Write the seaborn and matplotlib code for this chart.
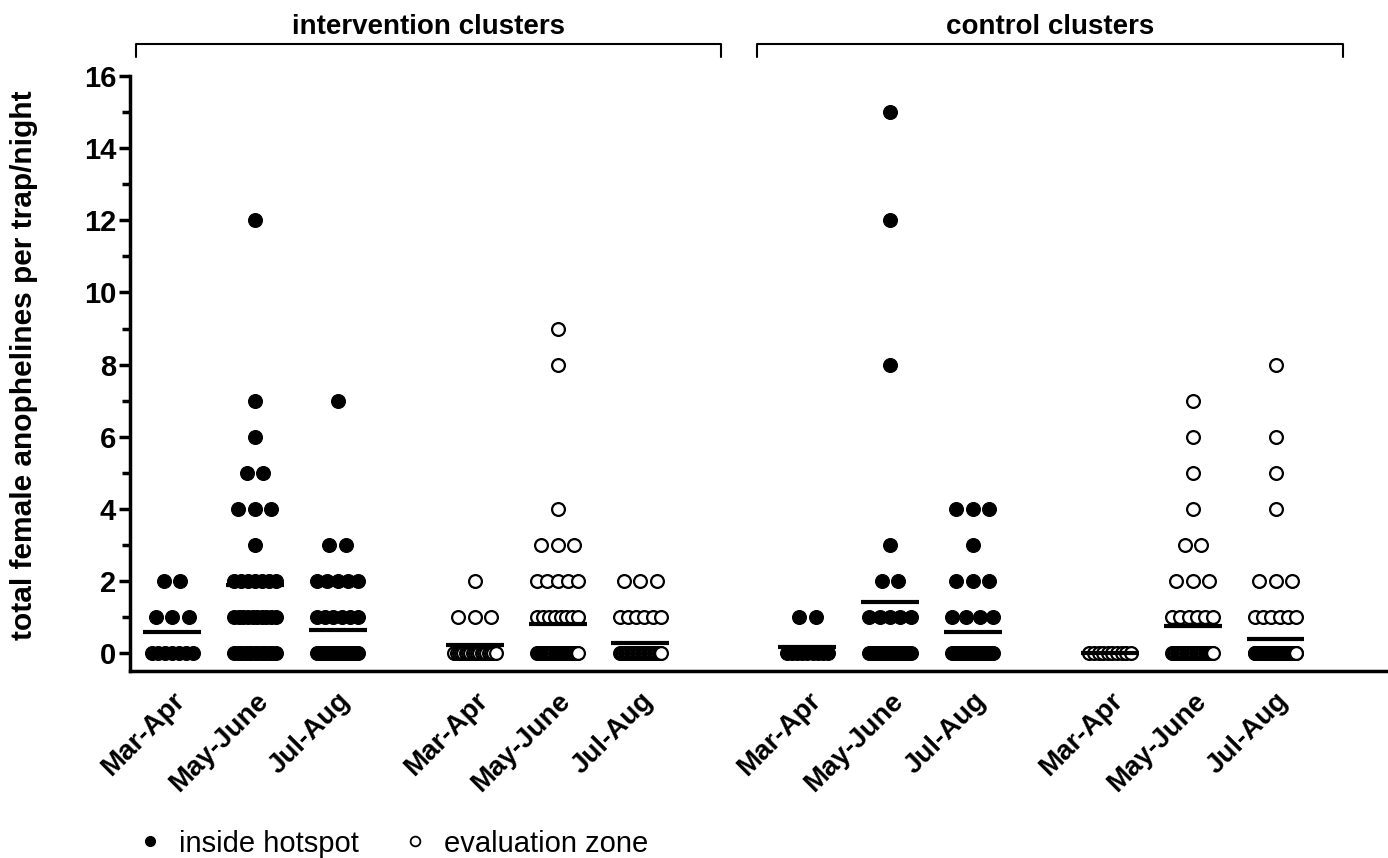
import numpy as np
import pandas as pd
import matplotlib
matplotlib.use("Agg")
import matplotlib.pyplot as plt
from matplotlib.lines import Line2D
import seaborn as sns

# -----------------------------
# Data
# -----------------------------
periods = ["Mar-Apr", "May-June", "Jul-Aug"]
arms = ["intervention clusters", "control clusters"]
zones = ["inside hotspot", "evaluation zone"]

int_hot_mar = [2] * 2 + [1] * 3 + [0] * 7
int_hot_may = [12, 7, 6, 5, 5, 4, 4, 4, 3] + [2] * 7 + [1] * 10 + [0] * 13
int_hot_jul = [7, 3, 3] + [2] * 5 + [1] * 6 + [0] * 30
int_eval_mar = [2] + [1] * 3 + [0] * 19
int_eval_may = [9, 8, 4, 3, 3, 3] + [2] * 5 + [1] * 8 + [0] * 41
int_eval_jul = [2] * 3 + [1] * 6 + [0] * 35
ctl_hot_mar = [1] * 2 + [0] * 9
ctl_hot_may = [15, 12, 8, 3, 2, 2] + [1] * 5 + [0] * 22
ctl_hot_jul = [4, 4, 4, 3, 2, 2, 2] + [1] * 4 + [0] * 31
ctl_eval_mar = [0] * 10
ctl_eval_may = [7, 6, 5, 4, 3, 3] + [2] * 3 + [1] * 6 + [0] * 38
ctl_eval_jul = [8, 6, 5, 4, 2, 2, 2] + [1] * 6 + [0] * 77

groups = [
    (arms[0], zones[0], int_hot_mar, int_hot_may, int_hot_jul),
    (arms[0], zones[1], int_eval_mar, int_eval_may, int_eval_jul),
    (arms[1], zones[0], ctl_hot_mar, ctl_hot_may, ctl_hot_jul),
    (arms[1], zones[1], ctl_eval_mar, ctl_eval_may, ctl_eval_jul),
]

# column positions (gaps between zone blocks and arms)
block_start = [0.0, 3.66, 7.68, 11.34]


# -----------------------------
# Helpers
# -----------------------------
def spread(values, step=0.2, half_width=0.25):
    """Side-by-side offsets for points sharing the same value (Prism style)."""
    values = np.asarray(values)
    offsets = np.zeros(len(values))
    for v in np.unique(values):
        idx = np.where(values == v)[0]
        n = len(idx)
        if n == 1:
            continue
        s = min(step, 2 * half_width / (n - 1))
        offsets[idx] = (np.arange(n) - (n - 1) / 2) * s
    return offsets


rows = []
for b, (arm, zone, *series) in enumerate(groups):
    for p, vals in enumerate(series):
        pos = block_start[b] + p
        offs = spread(vals)
        for v, o in zip(vals, offs):
            rows.append({"arm": arm, "zone": zone, "period": periods[p],
                         "pos": pos, "x": pos + o, "value": v})
df = pd.DataFrame(rows)
means = df.groupby("pos")["value"].mean().reset_index()

# -----------------------------
# Plot
# -----------------------------
sns.set_style("ticks")
plt.rcParams["font.family"] = ["Liberation Sans", "DejaVu Sans"]
plt.rcParams["text.color"] = "black"
plt.rcParams["axes.labelcolor"] = "black"
plt.rcParams["xtick.color"] = "black"
plt.rcParams["ytick.color"] = "black"
plt.rcParams["axes.edgecolor"] = "black"

fig = plt.figure(figsize=(13.88, 8.58), dpi=100)
ax = fig.add_axes([130 / 1388, 1 - 671 / 858, 1 - 130 / 1388, (671 - 76) / 858])

hot = df[df["zone"] == zones[0]]
ev = df[df["zone"] == zones[1]]
sns.scatterplot(data=hot, x="x", y="value", ax=ax, color="black",
                edgecolor="black", s=100, linewidth=0.8, legend=False, zorder=3)
sns.scatterplot(data=ev, x="x", y="value", ax=ax, color="white",
                edgecolor="black", s=85, linewidth=1.6, legend=False, zorder=3)

ax.hlines(means["value"], means["pos"] - 0.35, means["pos"] + 0.35,
          color="black", linewidth=3, zorder=4)

ax.set_xlim(-0.51, 14.7)
ax.set_ylim(-0.49, 16)
ax.set_yticks(np.arange(0, 17, 2))
ax.set_yticks(np.arange(1, 16, 2), minor=True)
ax.tick_params(axis="y", which="major", length=8, width=2.5, labelsize=21, pad=2)
ax.tick_params(axis="y", which="minor", length=6, width=2.5)
for lab in ax.get_yticklabels():
    lab.set_fontweight("bold")

xpos = [block_start[b] + p for b in range(4) for p in range(3)]
ax.set_xticks(xpos)
ax.set_xticklabels(periods * 4, rotation=45, ha="right", rotation_mode="anchor",
                   fontsize=20, fontweight="bold")
ax.tick_params(axis="x", length=0, pad=12)

ax.set_xlabel("")
ax.set_ylabel("total female anophelines per trap/night", fontsize=21.5,
              fontweight="bold")
ax.yaxis.set_label_coords(-0.073, 0.514)

sns.despine(ax=ax)
ax.spines["left"].set_linewidth(2.5)
ax.spines["bottom"].set_linewidth(2.5)

# group brackets above the plot
brackets = [(-0.435, 6.63, arms[0]), (7.07, 14.15, arms[1])]
for x0, x1, label in brackets:
    ax.plot([x0, x0, x1, x1], [16.54, 16.9, 16.9, 16.54], color="black",
            linewidth=1.5, clip_on=False)
    ax.text((x0 + x1) / 2, 17.35, label, ha="center", va="center",
            fontsize=20, fontweight="bold", clip_on=False)

handles = [
    Line2D([], [], marker="o", linestyle="", markerfacecolor="black",
           markeredgecolor="black", markersize=7, label=zones[0]),
    Line2D([], [], marker="o", linestyle="", markerfacecolor="white",
           markeredgecolor="black", markeredgewidth=1.3, markersize=7, label=zones[1]),
]
fig.legend(handles=handles, loc="lower left", bbox_to_anchor=(0.085, -0.02),
           ncol=2, frameon=False, fontsize=21, handlelength=1.0,
           handletextpad=0.5, columnspacing=1.4, borderaxespad=0.2)

fig.savefig("out.png", dpi=100)
